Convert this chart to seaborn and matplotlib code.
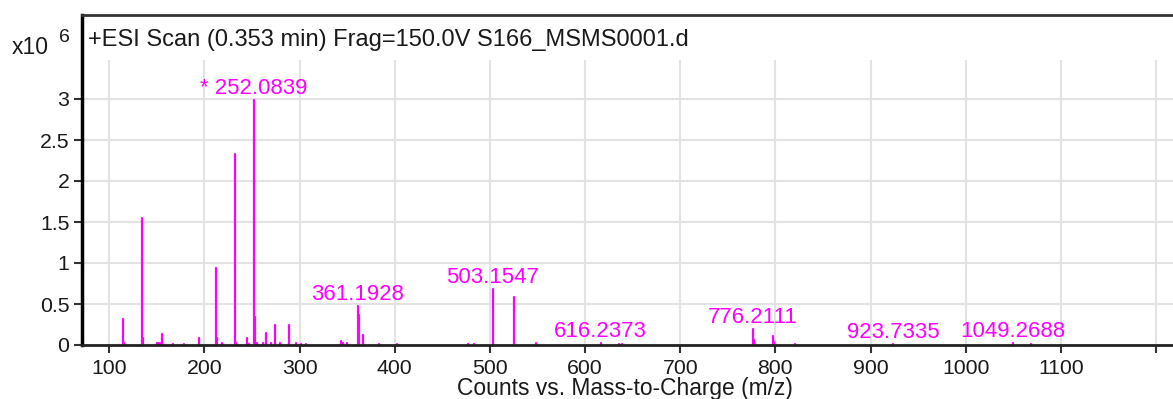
import numpy as np
import pandas as pd
import matplotlib
matplotlib.use("Agg")
import matplotlib.pyplot as plt
import seaborn as sns

# ---- data (m/z, counts x10^6) ----
mz = [114.0, 115.7, 134.0, 135.7, 149.8, 151.0, 153.5, 155.3, 166.8, 178.7,
      194.5, 212.3, 213.7, 218.0, 231.9, 233.6, 245.1, 247.0, 252.08, 253.5,
      255.2, 261.9, 265.0, 270.0, 274.5, 279.0, 289.3, 296.3, 301.0, 306.5,
      343.5, 345.5, 350.0, 361.19, 362.8, 366.5, 383.0, 402.7, 477.0, 483.0,
      503.15, 525.5, 548.4, 616.24, 636.0, 639.0, 776.21, 777.5, 797.5, 799.0,
      820.5, 923.73, 1049.27, 1069.0]
intensity = [0.32, 0.03, 1.545, 0.08, 0.02, 0.02, 0.03, 0.14, 0.01, 0.01,
             0.085, 0.94, 0.085, 0.02, 2.335, 0.03, 0.085, 0.01, 2.99, 0.345,
             0.03, 0.02, 0.15, 0.02, 0.24, 0.02, 0.24, 0.03, 0.01, 0.01,
             0.05, 0.02, 0.03, 0.48, 0.36, 0.12, 0.01, 0.01, 0.01, 0.01,
             0.68, 0.59, 0.02, 0.02, 0.01, 0.01, 0.2, 0.06, 0.11, 0.04,
             0.01, 0.01, 0.03, 0.01]
label_mz = [252.08, 361.19, 503.15, 616.24, 776.21, 923.73, 1049.27]
label_text = ["* 252.0839", "361.1928", "503.1547", "616.2373", "776.2111",
              "923.7335", "1049.2688"]
x_ticks = [100, 200, 300, 400, 500, 600, 700, 800, 900, 1000, 1100, 1200]
x_tick_labels = ["100", "200", "300", "400", "500", "600", "700", "800",
                 "900", "1000", "1100", ""]
y_ticks = [0, 0.5, 1, 1.5, 2, 2.5, 3]
y_tick_labels = ["0", "0.5", "1", "1.5", "2", "2.5", "3"]
title = "+ESI Scan (0.353 min) Frag=150.0V S166_MSMS0001.d"
xlabel = "Counts vs. Mass-to-Charge (m/z)"

sns.set_theme(style="white")
plt.rcParams["font.family"] = ["Liberation Sans", "DejaVu Sans"]

W, H = 1173, 399
fig = plt.figure(figsize=(W / 100, H / 100), dpi=100)
ax = fig.add_axes([82 / W, (H - 345) / H, 1 - 82 / W, 330 / H])

YTOP = 330 / 82.0
GRID_TOP = 285 / 82.0

# grid
ax.set_axisbelow(True)
ax.grid(axis="y", color="#e3e3e3", lw=1.5)
ax.vlines(x_ticks, 0, GRID_TOP, color="#e3e3e3", lw=1.5, zorder=0)

df = pd.DataFrame({
    "peak": np.repeat(np.arange(len(mz)), 2),
    "mz": np.repeat(mz, 2),
    "counts": np.column_stack([np.zeros(len(mz)), intensity]).ravel(),
})
sns.lineplot(data=df, x="mz", y="counts", units="peak", estimator=None,
             sort=False, color="#ff00ff", lw=1.6, ax=ax, legend=False)

for m, t in zip(label_mz, label_text):
    h = intensity[mz.index(m)]
    ax.annotate(t, xy=(m, h), xytext=(0, 6), textcoords="offset pixels",
                ha="center", va="baseline", color="#ff00ff", fontsize=16)

ax.set_xlim(71.3, 1217.9)
ax.set_ylim(0, YTOP)
ax.set_xticks(x_ticks)
ax.set_xticklabels(x_tick_labels)
ax.set_yticks(y_ticks)
ax.set_yticklabels(y_tick_labels)
ax.tick_params(axis="both", direction="out", length=6, width=1.5,
               color="#333333", labelsize=15.3, labelcolor="#1a1a1a", pad=3)
ax.tick_params(axis="x", bottom=True, pad=4)
ax.tick_params(axis="y", left=True)
ax.set_xlabel("")
ax.set_ylabel("")

ax.spines["right"].set_visible(False)
ax.spines["left"].set_linewidth(2.5)
ax.spines["left"].set_color("#000000")
ax.spines["bottom"].set_linewidth(2.0)
ax.spines["bottom"].set_color("#222222")
ax.spines["top"].set_linewidth(2.0)
ax.spines["top"].set_color("#333333")

fig.text(625 / W, 1 - 389 / H, xlabel, fontsize=16.4, color="#1a1a1a",
         ha="center", va="center")
fig.text(88 / W, 1 - 40 / H, title, fontsize=17, color="#1a1a1a",
         ha="left", va="center")
fig.text(12 / W, 1 - 48 / H, "x10", fontsize=16.5, color="#1a1a1a",
         ha="left", va="center")
fig.text(59 / W, 1 - 38 / H, "6", fontsize=14, color="#1a1a1a",
         ha="left", va="center")

fig.savefig("out.png", dpi=100)
